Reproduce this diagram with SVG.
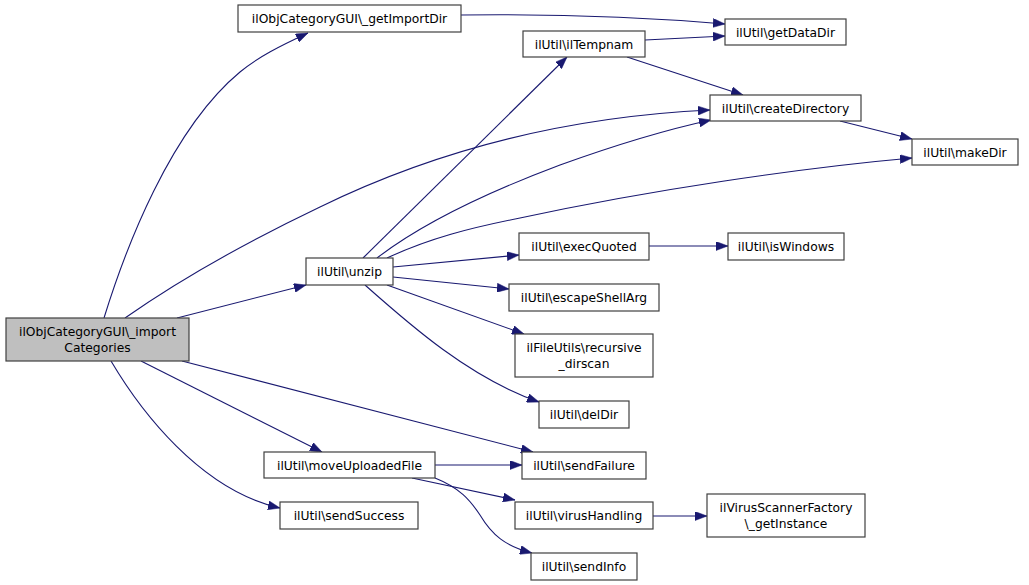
<svg xmlns="http://www.w3.org/2000/svg" width="1029" height="585" viewBox="0 0 1029 585">
<style>
.n rect{fill:#ffffff;stroke:#404040;stroke-width:1.2}
.n.main rect{fill:#bfbfbf}
.n text{font-family:"DejaVu Sans","Noto Sans",sans-serif;font-size:12.3px;text-anchor:middle;fill:#000}
.e path{fill:none;stroke:#191970;stroke-width:1.1;marker-end:url(#arr)}
</style>
<defs>
<marker id="arr" markerUnits="userSpaceOnUse" markerWidth="12" markerHeight="9" refX="12" refY="4.5" orient="auto">
<path d="M0,0 L12,4.5 L0,9 z" fill="#191970" stroke="#191970" stroke-width="0.5"/>
</marker>
</defs>
<rect width="1029" height="585" fill="#ffffff"/>
<g class="e" id="connectors">
<path d="M104,318 C125,250 170,130 240,72 C258,57 280,46 308,33"/>
<path d="M461,15 C540,14 620,15 725,24"/>
<path d="M645,40 L725,36"/>
<path d="M627,57 L743,95"/>
<path d="M840,121 L912,139"/>
<path d="M125,318 C165,290 230,250 320,207 C410,163 540,118 710,110"/>
<path d="M363,258 L567,57"/>
<path d="M377,258 C420,225 480,195 560,165 C610,147 660,131 711,120"/>
<path d="M387,258 C430,238 470,228 520,218 C650,190 800,168 912,158"/>
<path d="M393,267 L519,255"/>
<path d="M393,277 L509,289"/>
<path d="M387,285 L524,334"/>
<path d="M365,285 C410,325 470,378 539,402"/>
<path d="M177,318 L306,285"/>
<path d="M141,361 L322,452"/>
<path d="M182,361 L533,452"/>
<path d="M111,361 C140,410 200,490 280,508"/>
<path d="M435,465 L522,465"/>
<path d="M412,478 L515,500"/>
<path d="M435,478 C460,488 470,500 480,515 C492,535 505,546 532,553"/>
<path d="M649,246 L728,246"/>
<path d="M653,516 L707,516"/>
</g>
<g class="n main" id="node-importCategories"><rect x="6" y="318" width="183" height="43"/><text x="97.5" y="336">ilObjCategoryGUI\_import</text><text x="97.5" y="352">Categories</text></g>
<g class="n" id="node-getImportDir"><rect x="238" y="5" width="223" height="27"/><text x="349.5" y="23">ilObjCategoryGUI\_getImportDir</text></g>
<g class="n" id="node-getDataDir"><rect x="725" y="19" width="121" height="26"/><text x="785.5" y="36.5">ilUtil\getDataDir</text></g>
<g class="n" id="node-ilTempnam"><rect x="523" y="31" width="122" height="26"/><text x="584" y="48.5">ilUtil\ilTempnam</text></g>
<g class="n" id="node-createDirectory"><rect x="710" y="95" width="151" height="26"/><text x="785.5" y="112.5">ilUtil\createDirectory</text></g>
<g class="n" id="node-makeDir"><rect x="912" y="139" width="106" height="26"/><text x="965" y="156.5">ilUtil\makeDir</text></g>
<g class="n" id="node-unzip"><rect x="306" y="258" width="87" height="27"/><text x="349.5" y="276">ilUtil\unzip</text></g>
<g class="n" id="node-execQuoted"><rect x="519" y="233" width="130" height="27"/><text x="584" y="251">ilUtil\execQuoted</text></g>
<g class="n" id="node-isWindows"><rect x="728" y="233" width="116" height="27"/><text x="786" y="251">ilUtil\isWindows</text></g>
<g class="n" id="node-escapeShellArg"><rect x="509" y="284" width="150" height="27"/><text x="584" y="302">ilUtil\escapeShellArg</text></g>
<g class="n" id="node-recursive_dirscan"><rect x="515" y="334" width="138" height="43"/><text x="584" y="352">ilFileUtils\recursive</text><text x="584" y="368">_dirscan</text></g>
<g class="n" id="node-delDir"><rect x="539" y="401" width="90" height="27"/><text x="584" y="419">ilUtil\delDir</text></g>
<g class="n" id="node-sendFailure"><rect x="522" y="452" width="124" height="27"/><text x="584" y="470">ilUtil\sendFailure</text></g>
<g class="n" id="node-moveUploadedFile"><rect x="264" y="452" width="171" height="26"/><text x="349.5" y="469.5">ilUtil\moveUploadedFile</text></g>
<g class="n" id="node-sendSuccess"><rect x="280" y="502" width="138" height="27"/><text x="349" y="520">ilUtil\sendSuccess</text></g>
<g class="n" id="node-virusHandling"><rect x="515" y="502" width="138" height="27"/><text x="584" y="520">ilUtil\virusHandling</text></g>
<g class="n" id="node-getInstance"><rect x="707" y="494" width="158" height="43"/><text x="786" y="512">ilVirusScannerFactory</text><text x="786" y="528">\_getInstance</text></g>
<g class="n" id="node-sendInfo"><rect x="531" y="553" width="106" height="27"/><text x="584" y="571">ilUtil\sendInfo</text></g>
</svg>
